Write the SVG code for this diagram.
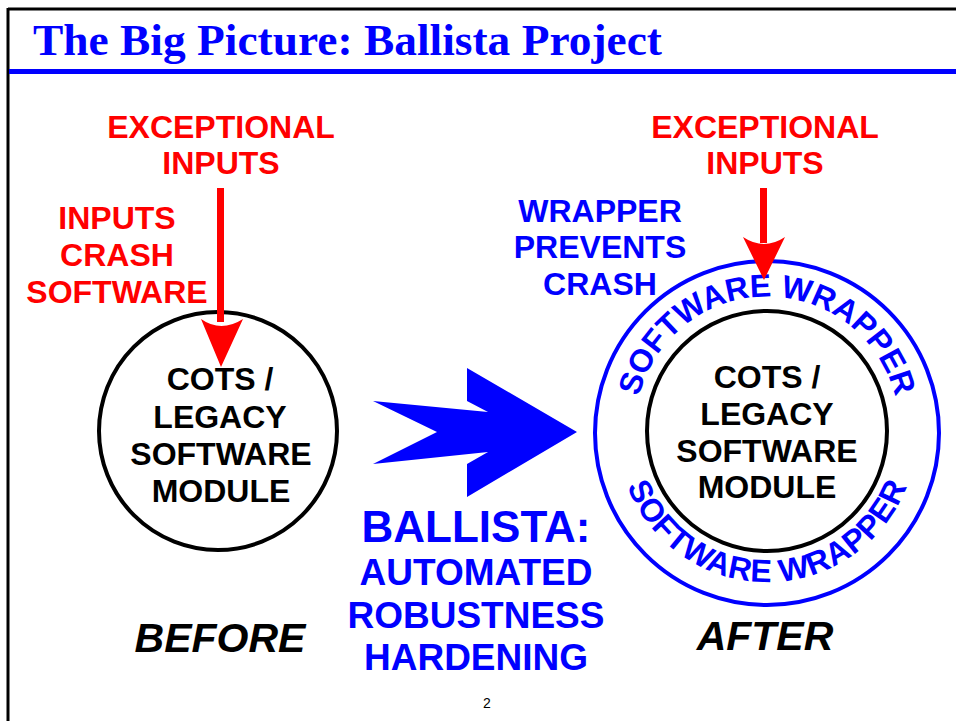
<svg xmlns="http://www.w3.org/2000/svg" width="956" height="721" viewBox="0 0 956 721">
<style>
.lbl{font-family:"Liberation Sans",Arial,sans-serif;font-weight:bold;text-anchor:middle}
.red{fill:#ff0000}
.blue{fill:#0000ff}
.blk{fill:#000}
.s32{font-size:32px}
.s37{font-size:37px}
.it{font-style:italic;font-size:41px}
.ring{fill:none;stroke-width:4}
</style>
<defs>
<path id="arcTop" d="M 639.1 396.0 A 132 132 0 0 1 894.9 396.0"/>
<path id="arcBot" d="M 626.0 483.3 A 150 150 0 0 0 908.0 483.3"/>
</defs>
<rect width="956" height="721" fill="#fff"/>
<g id="frame">
<line x1="8" y1="9" x2="956" y2="9" stroke="#000" stroke-width="3"/>
<line x1="8" y1="8" x2="8" y2="721" stroke="#000" stroke-width="3"/>
<line x1="9" y1="71.5" x2="956" y2="71.5" stroke="#0000ff" stroke-width="5"/>
</g>
<g id="title">
<text x="33" y="55" font-family="'Liberation Serif','Times New Roman',serif" font-weight="bold" font-size="45" fill="#0000ff" textLength="629" lengthAdjust="spacingAndGlyphs">The Big Picture: Ballista Project</text>
</g>
<g id="before-inputs">
<text class="lbl red s32" x="221" y="138">EXCEPTIONAL</text>
<text class="lbl red s32" x="221" y="174">INPUTS</text>
</g>
<g id="crash-note">
<text class="lbl red s32" x="117" y="229">INPUTS</text>
<text class="lbl red s32" x="117" y="266">CRASH</text>
<text class="lbl red s32" x="117" y="303">SOFTWARE</text>
</g>
<g id="module-before">
<circle class="ring" cx="218" cy="431" r="119" stroke="#000"/>
<text class="lbl blk s32" x="220" y="390">COTS /</text>
<text class="lbl blk s32" x="220" y="428">LEGACY</text>
<text class="lbl blk s32" x="221" y="465">SOFTWARE</text>
<text class="lbl blk s32" x="221" y="502">MODULE</text>
</g>
<g id="before-label">
<text class="lbl blk it" x="220" y="652">BEFORE</text>
</g>
<g id="ballista-arrow">
<polygon class="blue" points="373,401 488,412 467,401 467,368 577,432 467,497 467,464 488,452 373,464 437,432"/>
</g>
<g id="ballista-label">
<text class="lbl blue" font-size="44" x="476" y="542">BALLISTA:</text>
<text class="lbl blue s37" x="476" y="585">AUTOMATED</text>
<text class="lbl blue s37" x="476" y="628">ROBUSTNESS</text>
<text class="lbl blue s37" x="476" y="670">HARDENING</text>
</g>
<g id="after-inputs">
<text class="lbl red s32" x="765" y="138">EXCEPTIONAL</text>
<text class="lbl red s32" x="765" y="174">INPUTS</text>
</g>
<g id="wrapper-note">
<text class="lbl blue s32" x="600" y="222">WRAPPER</text>
<text class="lbl blue s32" x="600" y="258">PREVENTS</text>
<text class="lbl blue s32" x="600" y="295">CRASH</text>
</g>
<g id="wrapper">
<circle class="ring" cx="767" cy="433" r="172" stroke="#0000ff"/>
<text class="lbl blue s32"><textPath href="#arcTop" startOffset="50%" textLength="350" lengthAdjust="spacing">SOFTWARE WRAPPER</textPath></text>
<text class="lbl blue s32"><textPath href="#arcBot" startOffset="50%" textLength="360" lengthAdjust="spacing">SOFTWARE WRAPPER</textPath></text>
</g>
<g id="module-after">
<circle class="ring" cx="767" cy="431" r="120" stroke="#000"/>
<text class="lbl blk s32" x="767" y="388">COTS /</text>
<text class="lbl blk s32" x="767" y="425">LEGACY</text>
<text class="lbl blk s32" x="767" y="462">SOFTWARE</text>
<text class="lbl blk s32" x="767" y="498">MODULE</text>
</g>
<g id="after-label">
<text class="lbl blk it" x="765" y="650">AFTER</text>
</g>
<g id="connectors">
<rect class="red" x="217" y="188" width="7" height="134"/>
<path class="red" d="M201,319 Q221,333 243,319 L221,367 Z"/>
<rect class="red" x="760" y="188" width="7" height="55"/>
<path class="red" d="M743,237 Q764,251 785,237 L764,280 Z"/>
</g>
<g id="page">
<text x="487" y="708" font-family="'Liberation Sans',Arial,sans-serif" font-size="14" text-anchor="middle" fill="#000">2</text>
</g>
</svg>
